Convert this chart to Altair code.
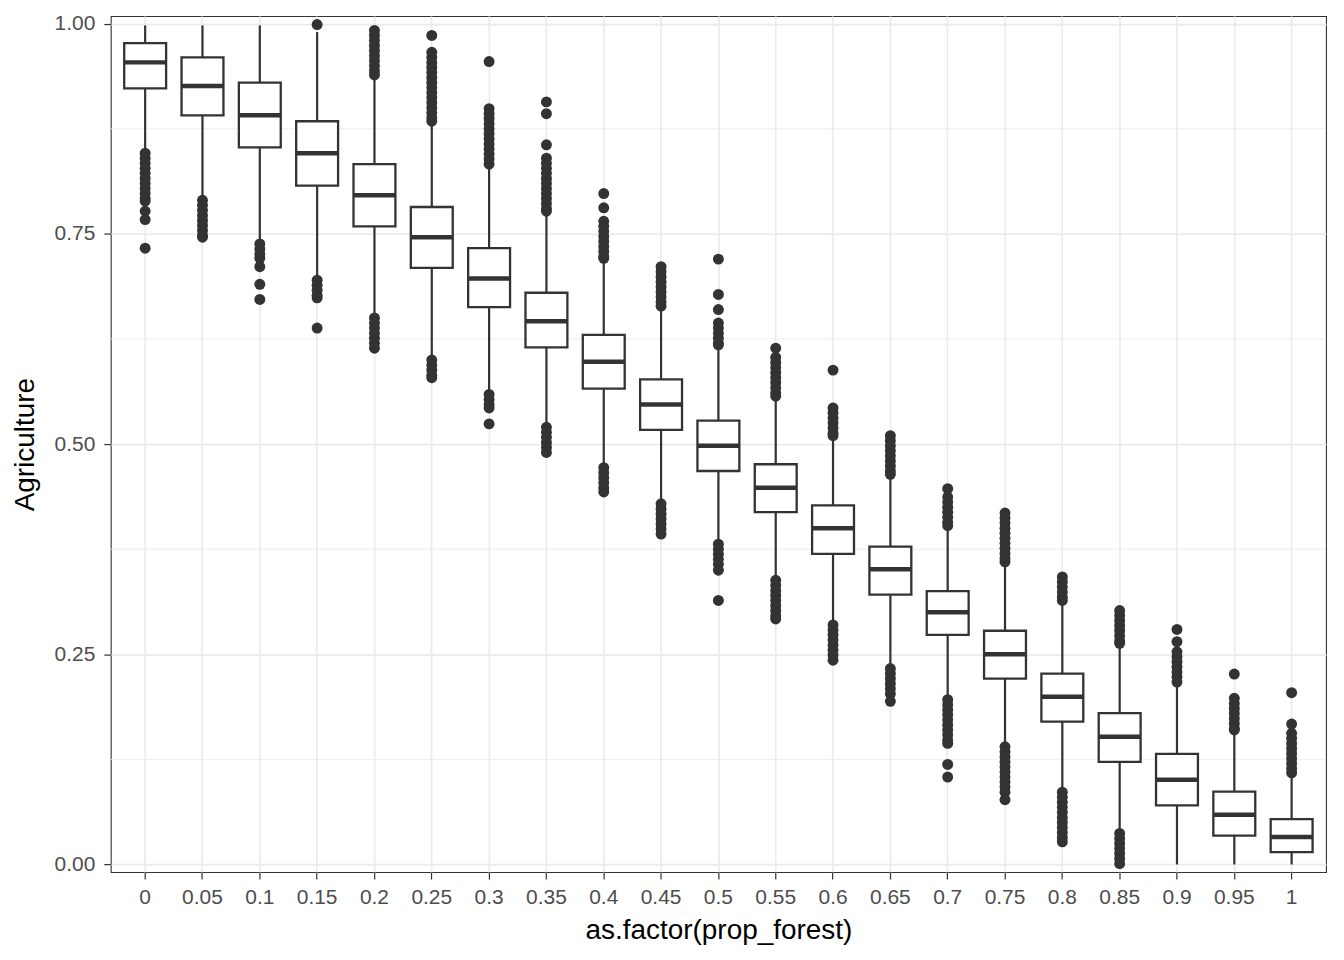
import altair as alt
import pandas as pd

categories = ["0", "0.05", "0.1", "0.15", "0.2", "0.25", "0.3", "0.35", "0.4", "0.45", "0.5",
              "0.55", "0.6", "0.65", "0.7", "0.75", "0.8", "0.85", "0.9", "0.95", "1"]

upper_whisker = [0.998, 0.998, 0.998, 0.990, 0.935, 0.880, 0.830, 0.774, 0.718, 0.660, 0.615,
                 0.553, 0.507, 0.460, 0.400, 0.357, 0.311, 0.260, 0.214, 0.157, 0.106]
q3 = [0.977, 0.960, 0.930, 0.884, 0.833, 0.782, 0.733, 0.680, 0.630, 0.577, 0.528,
      0.476, 0.427, 0.378, 0.325, 0.278, 0.227, 0.180, 0.1316, 0.0866, 0.054]
median = [0.954, 0.926, 0.891, 0.846, 0.796, 0.746, 0.697, 0.646, 0.598, 0.547, 0.498,
          0.448, 0.400, 0.351, 0.300, 0.250, 0.1996, 0.152, 0.1008, 0.059, 0.0328]
q1 = [0.923, 0.891, 0.853, 0.8075, 0.759, 0.7095, 0.663, 0.615, 0.566, 0.517, 0.468,
      0.419, 0.3695, 0.321, 0.273, 0.221, 0.170, 0.122, 0.0703, 0.0344, 0.0146]
lower_whisker = [0.850, 0.793, 0.741, 0.698, 0.655, 0.603, 0.563, 0.522, 0.474, 0.433, 0.383,
                 0.340, 0.288, 0.235, 0.1975, 0.142, 0.089, 0.0395, 0.0, 0.0, 0.0]

outliers = [
    [0.846, 0.840, 0.834, 0.828, 0.822, 0.816, 0.810, 0.804, 0.798, 0.792, 0.789, 0.777, 0.767, 0.733],
    [0.790, 0.784, 0.778, 0.772, 0.766, 0.760, 0.754, 0.748, 0.746],
    [0.738, 0.732, 0.726, 0.721, 0.711, 0.690, 0.672],
    [0.999, 0.695, 0.689, 0.683, 0.677, 0.674, 0.638],
    [0.992, 0.986, 0.980, 0.974, 0.968, 0.962, 0.956, 0.950, 0.944, 0.939,
     0.650, 0.644, 0.638, 0.632, 0.626, 0.620, 0.614],
    [0.986, 0.966, 0.960, 0.954, 0.948, 0.942, 0.936, 0.930, 0.924, 0.918, 0.912, 0.906, 0.900,
     0.894, 0.888, 0.884, 0.600, 0.594, 0.588, 0.582, 0.579],
    [0.955, 0.899, 0.893, 0.887, 0.881, 0.875, 0.869, 0.863, 0.857, 0.851, 0.845, 0.839, 0.833,
     0.559, 0.553, 0.547, 0.543, 0.524],
    [0.907, 0.893, 0.856, 0.840, 0.834, 0.828, 0.822, 0.816, 0.810, 0.804, 0.798, 0.792, 0.786,
     0.780, 0.777, 0.520, 0.514, 0.508, 0.502, 0.496, 0.490],
    [0.798, 0.781, 0.765, 0.759, 0.753, 0.747, 0.741, 0.735, 0.729, 0.723, 0.721,
     0.472, 0.466, 0.460, 0.454, 0.448, 0.443],
    [0.711, 0.705, 0.699, 0.693, 0.687, 0.681, 0.675, 0.669, 0.664,
     0.429, 0.423, 0.417, 0.411, 0.405, 0.399, 0.393],
    [0.720, 0.678, 0.660, 0.644, 0.638, 0.632, 0.626, 0.620, 0.618,
     0.381, 0.375, 0.369, 0.363, 0.357, 0.350, 0.314],
    [0.614, 0.603, 0.597, 0.591, 0.585, 0.579, 0.573, 0.567, 0.561, 0.557,
     0.338, 0.332, 0.326, 0.320, 0.314, 0.308, 0.302, 0.296, 0.292],
    [0.588, 0.543, 0.537, 0.531, 0.525, 0.519, 0.513, 0.510,
     0.285, 0.279, 0.273, 0.267, 0.261, 0.255, 0.249, 0.243],
    [0.510, 0.504, 0.498, 0.492, 0.486, 0.480, 0.474, 0.468, 0.464,
     0.233, 0.227, 0.221, 0.215, 0.209, 0.203, 0.194],
    [0.447, 0.437, 0.431, 0.425, 0.419, 0.413, 0.407, 0.403,
     0.196, 0.190, 0.184, 0.178, 0.172, 0.166, 0.160, 0.154, 0.148, 0.144, 0.119, 0.104],
    [0.418, 0.412, 0.406, 0.400, 0.394, 0.388, 0.382, 0.376, 0.370, 0.364, 0.360,
     0.140, 0.134, 0.128, 0.122, 0.116, 0.110, 0.104, 0.098, 0.092, 0.086, 0.077],
    [0.342, 0.336, 0.330, 0.324, 0.318, 0.314,
     0.086, 0.080, 0.074, 0.068, 0.062, 0.056, 0.050, 0.044, 0.038, 0.032, 0.027],
    [0.302, 0.296, 0.290, 0.284, 0.278, 0.272, 0.266, 0.263,
     0.037, 0.031, 0.025, 0.019, 0.013, 0.007, 0.001],
    [0.2795, 0.265, 0.253, 0.247, 0.241, 0.235, 0.229, 0.223, 0.217],
    [0.2265, 0.1976, 0.1916, 0.1856, 0.1796, 0.1736, 0.1676, 0.1616, 0.160],
    [0.2043, 0.167, 0.156, 0.150, 0.144, 0.138, 0.132, 0.126, 0.120, 0.114, 0.109],
]

y_ticks = [0.0, 0.25, 0.5, 0.75, 1.0]
y_minor = [0.125, 0.375, 0.625, 0.875]

box_df = pd.DataFrame({"cat": categories, "lo": lower_whisker, "q1": q1, "med": median,
                       "q3": q3, "hi": upper_whisker})
out_df = pd.DataFrame([(c, v) for c, vals in zip(categories, outliers) for v in vals],
                      columns=["cat", "value"])
minor_df = pd.DataFrame({"y": y_minor})

DARK = "#333333"
x_scale = alt.Scale(type="band", domain=categories, paddingInner=0, paddingOuter=0.1)
y_scale = alt.Scale(domain=[-0.0091, 1.0091], nice=False, zero=False)

x_axis = alt.Axis(title="as.factor(prop_forest)", labelAngle=0, bandPosition=0.5, grid=True,
                  labelPadding=7, titlePadding=10)
y_axis = alt.Axis(title="Agriculture", values=y_ticks, format=".2f", grid=True,
                  labelPadding=9, titlePadding=15)


def xenc():
    return alt.X("cat:N", scale=x_scale, sort=categories, axis=x_axis)


def yenc(field):
    return alt.Y(f"{field}:Q", scale=y_scale, axis=y_axis)


minor = alt.Chart(minor_df).mark_rule(color="#ebebeb", strokeWidth=0.9).encode(y=yenc("y"))

whisk = alt.Chart(box_df).mark_rule(color=DARK, strokeWidth=2.2).encode(
    x=xenc(), y=yenc("lo"), y2="hi:Q")

box = alt.Chart(box_df).mark_bar(fill="white", stroke=DARK, strokeWidth=2.3, size=42).encode(
    x=xenc(), y=yenc("q1"), y2="q3:Q")

med = alt.Chart(box_df).mark_tick(color=DARK, thickness=4.5, size=42, opacity=1).encode(
    x=xenc(), y=yenc("med"))

pts = alt.Chart(out_df).mark_circle(color=DARK, size=120, opacity=1).encode(
    x=xenc(), y=yenc("value"))

chart = alt.layer(minor, whisk, box, med, pts).properties(
    width=1218, height=858,
    autosize=alt.AutoSizeParams(type="none"),
    padding={"left": 103, "top": 7, "right": 10, "bottom": 82},
).configure_axis(
    labelFont="Liberation Sans", titleFont="Liberation Sans",
    labelFontSize=21, labelColor="#4d4d4d",
    titleFontSize=28, titleFontWeight="normal", titleColor="#000000",
    tickColor=DARK, tickSize=7, tickWidth=1.2,
    gridColor="#ebebeb", gridWidth=1.7, domain=False,
).configure_view(stroke=DARK, strokeWidth=1.1)

chart.save("out.html", embed_options={"renderer": "svg", "actions": False})
